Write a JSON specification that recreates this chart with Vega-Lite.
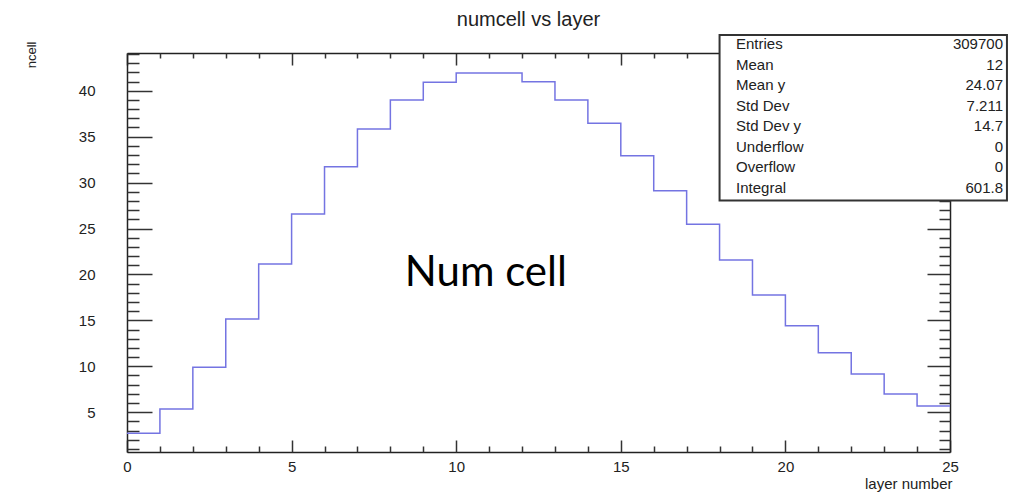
{
  "$schema": "https://vega.github.io/schema/vega-lite/v6.json",
  "width": 823,
  "height": 399,
  "autosize": "none",
  "padding": {"left": 127, "top": 53, "right": 80, "bottom": 43},
  "background": "white",
  "config": {"view": {"stroke": null}, "font": "Liberation Sans"},
  "title": {"text": "numcell vs layer", "font": "Liberation Sans", "fontSize": 20, "fontWeight": "normal", "color": "#222", "anchor": "middle", "frame": "group", "baseline": "alphabetic", "offset": 9, "dx": -10, "dy": 21},
  "datasets": {
    "hist": [
      {"lo": 0, "hi": 1, "ncell": 2.71},
      {"lo": 1, "hi": 2, "ncell": 5.35},
      {"lo": 2, "hi": 3, "ncell": 9.89},
      {"lo": 3, "hi": 4, "ncell": 15.15},
      {"lo": 4, "hi": 5, "ncell": 21.14},
      {"lo": 5, "hi": 6, "ncell": 26.58},
      {"lo": 6, "hi": 7, "ncell": 31.73},
      {"lo": 7, "hi": 8, "ncell": 35.84},
      {"lo": 8, "hi": 9, "ncell": 38.99},
      {"lo": 9, "hi": 10, "ncell": 40.92},
      {"lo": 10, "hi": 11, "ncell": 41.93},
      {"lo": 11, "hi": 12, "ncell": 41.93},
      {"lo": 12, "hi": 13, "ncell": 40.99},
      {"lo": 13, "hi": 14, "ncell": 38.99},
      {"lo": 14, "hi": 15, "ncell": 36.46},
      {"lo": 15, "hi": 16, "ncell": 32.93},
      {"lo": 16, "hi": 17, "ncell": 29.12},
      {"lo": 17, "hi": 18, "ncell": 25.46},
      {"lo": 18, "hi": 19, "ncell": 21.57},
      {"lo": 19, "hi": 20, "ncell": 17.76},
      {"lo": 20, "hi": 21, "ncell": 14.42},
      {"lo": 21, "hi": 22, "ncell": 11.48},
      {"lo": 22, "hi": 23, "ncell": 9.16},
      {"lo": 23, "hi": 24, "ncell": 6.98},
      {"lo": 24, "hi": 25, "ncell": 5.68}
    ],
    "stats": [
      {"stat": "Entries", "value": "309700"},
      {"stat": "Mean", "value": "12"},
      {"stat": "Mean y", "value": "24.07"},
      {"stat": "Std Dev", "value": "7.211"},
      {"stat": "Std Dev y", "value": "14.7"},
      {"stat": "Underflow", "value": "0"},
      {"stat": "Overflow", "value": "0"},
      {"stat": "Integral", "value": "601.8"}
    ]
  },
  "resolve": {"scale": {"y": "independent"}, "axis": {"x": "independent", "y": "independent"}},
  "layer": [
    {
      "resolve": {"axis": {"x": "independent", "y": "independent"}},
      "layer": [
        {
          "data": {"name": "hist"},
          "transform": [{"fold": ["lo", "hi"], "as": ["edge", "layer"]}],
          "mark": {"type": "line", "color": "#7474e2", "strokeWidth": 1.5},
          "encoding": {
            "x": {"field": "layer", "type": "quantitative", "scale": {"domain": [0, 25], "nice": false, "zero": false},
              "axis": {"orient": "bottom", "values": [0, 5, 10, 15, 20, 25], "ticks": false, "grid": false, "domain": true, "domainColor": "#222", "domainWidth": 1.5, "labelPadding": 7, "labelFlush": false, "labelOverlap": false, "labelFont": "Liberation Sans", "labelFontSize": 15, "labelColor": "#222", "format": "d",
                "title": "layer number", "titleFont": "Liberation Sans", "titleFontSize": 15, "titleFontWeight": "normal", "titleColor": "#222", "titleAnchor": "end", "titleAlign": "right", "titleBaseline": "alphabetic", "titleX": 825, "titleY": 36.5}},
            "y": {"field": "ncell", "type": "quantitative", "scale": {"domain": [0.67, 44.11], "nice": false, "zero": false},
              "axis": {"orient": "left", "values": [5, 10, 15, 20, 25, 30, 35, 40], "ticks": false, "grid": false, "domain": true, "domainColor": "#222", "domainWidth": 1.5, "labelPadding": 32, "labelOverlap": false, "labelFlush": false, "labelFont": "Liberation Sans", "labelFontSize": 15, "labelColor": "#222", "format": "d",
                "title": "ncell", "titleFont": "Liberation Sans", "titleFontSize": 13, "titleFontWeight": "normal", "titleColor": "#222", "titleAngle": -90, "titleAlign": "right", "titleBaseline": "middle", "titleX": -96, "titleY": -12}},
            "order": [{"field": "lo", "type": "quantitative"}, {"field": "edge", "type": "ordinal", "sort": "descending"}]
          }
        },
        {
          "data": {"name": "hist"},
          "mark": {"type": "point", "opacity": 0},
          "encoding": {
            "x": {"field": "lo", "type": "quantitative", "scale": {"domain": [0, 25], "nice": false, "zero": false},
              "axis": {"orient": "bottom", "values": [0, 5, 10, 15, 20, 25], "labels": false, "domain": false, "grid": false, "ticks": true, "tickSize": -12, "tickColor": "#333", "tickWidth": 1.5, "title": null}},
            "y": {"field": "ncell", "type": "quantitative", "scale": {"domain": [0.67, 44.11], "nice": false, "zero": false},
              "axis": {"orient": "left", "values": [5, 10, 15, 20, 25, 30, 35, 40], "labels": false, "domain": false, "grid": false, "ticks": true, "tickSize": -25, "tickColor": "#333", "tickWidth": 1.5, "title": null}}
          }
        },
        {
          "data": {"name": "hist"},
          "mark": {"type": "point", "opacity": 0},
          "encoding": {
            "x": {"field": "lo", "type": "quantitative", "scale": {"domain": [0, 25], "nice": false, "zero": false},
              "axis": {"orient": "bottom", "values": [1, 2, 3, 4, 6, 7, 8, 9, 11, 12, 13, 14, 16, 17, 18, 19, 21, 22, 23, 24], "labels": false, "domain": false, "grid": false, "ticks": true, "tickSize": -6, "tickColor": "#333", "tickWidth": 1.5, "title": null}},
            "y": {"field": "ncell", "type": "quantitative", "scale": {"domain": [0.67, 44.11], "nice": false, "zero": false},
              "axis": {"orient": "left", "values": [1, 2, 3, 4, 6, 7, 8, 9, 11, 12, 13, 14, 16, 17, 18, 19, 21, 22, 23, 24, 26, 27, 28, 29, 31, 32, 33, 34, 36, 37, 38, 39, 41, 42, 43, 44], "labels": false, "domain": false, "grid": false, "ticks": true, "tickSize": -12, "tickColor": "#333", "tickWidth": 1.5, "title": null}}
          }
        },
        {
          "data": {"name": "hist"},
          "mark": {"type": "point", "opacity": 0},
          "encoding": {
            "x": {"field": "lo", "type": "quantitative", "scale": {"domain": [0, 25], "nice": false, "zero": false},
              "axis": {"orient": "top", "values": [0, 5, 10, 15, 20, 25], "labels": false, "domain": true, "domainColor": "#222", "domainWidth": 1.5, "grid": false, "ticks": true, "tickSize": -12, "tickColor": "#333", "tickWidth": 1.5, "title": null}},
            "y": {"field": "ncell", "type": "quantitative", "scale": {"domain": [0.67, 44.11], "nice": false, "zero": false},
              "axis": {"orient": "right", "values": [5, 10, 15, 20, 25, 30, 35, 40], "labels": false, "domain": true, "domainColor": "#222", "domainWidth": 1.5, "grid": false, "ticks": true, "tickSize": -23, "tickColor": "#333", "tickWidth": 1.5, "title": null}}
          }
        },
        {
          "data": {"name": "hist"},
          "mark": {"type": "point", "opacity": 0},
          "encoding": {
            "x": {"field": "lo", "type": "quantitative", "scale": {"domain": [0, 25], "nice": false, "zero": false},
              "axis": {"orient": "top", "values": [1, 2, 3, 4, 6, 7, 8, 9, 11, 12, 13, 14, 16, 17, 18, 19, 21, 22, 23, 24], "labels": false, "domain": false, "grid": false, "ticks": true, "tickSize": -5, "tickColor": "#333", "tickWidth": 1.5, "title": null}},
            "y": {"field": "ncell", "type": "quantitative", "scale": {"domain": [0.67, 44.11], "nice": false, "zero": false},
              "axis": {"orient": "right", "values": [1, 2, 3, 4, 6, 7, 8, 9, 11, 12, 13, 14, 16, 17, 18, 19, 21, 22, 23, 24, 26, 27, 28, 29, 31, 32, 33, 34, 36, 37, 38, 39, 41, 42, 43, 44], "labels": false, "domain": false, "grid": false, "ticks": true, "tickSize": -11, "tickColor": "#333", "tickWidth": 1.5, "title": null}}
          }
        },
        {
          "data": {"values": [{"box": "stats"}]},
          "mark": {"type": "rect", "fill": "white", "stroke": "#333", "strokeWidth": 2, "clip": false},
          "encoding": {
            "x": {"datum": 18.0, "type": "quantitative", "scale": {"domain": [0, 25], "nice": false, "zero": false}, "axis": null},
            "x2": {"datum": 26.73},
            "y": {"datum": 46.07, "type": "quantitative", "scale": {"domain": [0.67, 44.11], "nice": false, "zero": false}, "axis": null},
            "y2": {"datum": 28.05}
          }
        },
        {
          "data": {"values": [{"note": "Num cell"}]},
          "mark": {"type": "text", "font": "Lato", "fontSize": 42, "color": "#000", "align": "center", "baseline": "middle"},
          "encoding": {
            "x": {"datum": 10.9, "type": "quantitative", "scale": {"domain": [0, 25], "nice": false, "zero": false}, "axis": null},
            "y": {"datum": 20.16, "type": "quantitative", "scale": {"domain": [0.67, 44.11], "nice": false, "zero": false}, "axis": null},
            "text": {"field": "note"}
          }
        }
      ]
    },
    {
      "data": {"name": "stats"},
      "layer": [
        {
          "mark": {"type": "text", "font": "Liberation Sans", "fontSize": 15, "color": "#222", "align": "left", "baseline": "middle"},
          "encoding": {
            "x": {"datum": 18.5, "type": "quantitative", "scale": {"domain": [0, 25], "nice": false, "zero": false}, "axis": null},
            "y": {"field": "stat", "type": "ordinal", "scale": {"type": "point", "domain": ["Entries", "Mean", "Mean y", "Std Dev", "Std Dev y", "Underflow", "Overflow", "Integral"], "range": [-9, 134.5], "padding": 0}, "axis": null},
            "text": {"field": "stat"}
          }
        },
        {
          "mark": {"type": "text", "font": "Liberation Sans", "fontSize": 15, "color": "#222", "align": "right", "baseline": "middle"},
          "encoding": {
            "x": {"datum": 26.61, "type": "quantitative", "scale": {"domain": [0, 25], "nice": false, "zero": false}, "axis": null},
            "y": {"field": "stat", "type": "ordinal", "scale": {"type": "point", "domain": ["Entries", "Mean", "Mean y", "Std Dev", "Std Dev y", "Underflow", "Overflow", "Integral"], "range": [-9, 134.5], "padding": 0}, "axis": null},
            "text": {"field": "value"}
          }
        }
      ]
    }
  ]
}
